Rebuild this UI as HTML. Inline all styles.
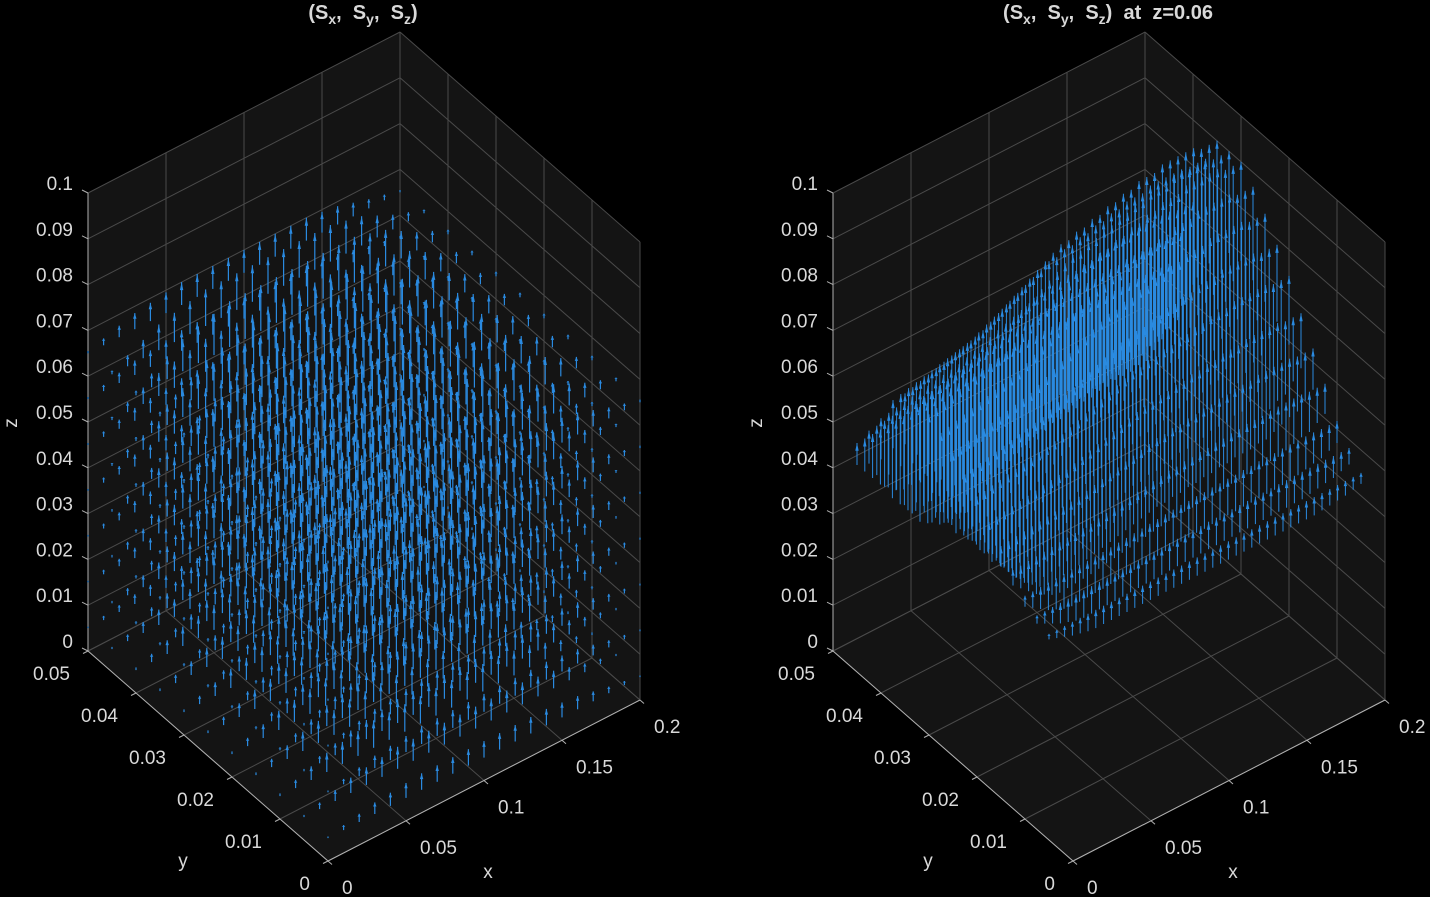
<!DOCTYPE html>
<html><head><meta charset="utf-8"><style>
html,body{margin:0;padding:0;background:#000;}
svg{display:block;font-family:"Liberation Sans",sans-serif;}
.tk{fill:#d9d9d9;font-size:19px;}
.ttl{fill:#d9d9d9;font-size:20px;font-weight:bold;white-space:pre;}
</style></head><body>
<svg id="chart" width="1430" height="897" viewBox="0 0 1430 897" xmlns="http://www.w3.org/2000/svg">
<rect width="1430" height="897" fill="#000"/>
<text class="ttl" x="363" y="19" text-anchor="middle">(S<tspan font-size="14" dy="5">x</tspan><tspan dy="-5">,&#160;&#160;S</tspan><tspan font-size="14" dy="5">y</tspan><tspan dy="-5">,&#160;&#160;S</tspan><tspan font-size="14" dy="5">z</tspan><tspan dy="-5">)</tspan></text>
<text class="ttl" x="1108" y="19" text-anchor="middle">(S<tspan font-size="14" dy="5">x</tspan><tspan dy="-5">,&#160;&#160;S</tspan><tspan font-size="14" dy="5">y</tspan><tspan dy="-5">,&#160;&#160;S</tspan><tspan font-size="14" dy="5">z</tspan><tspan dy="-5">)&#160;&#160;at&#160;&#160;z=0.06</tspan></text>
</svg>
<script>
// ---- data ----
const xTicks=[0,0.05,0.1,0.15,0.2];
const xTickLabels=["0","0.05","0.1","0.15","0.2"];
const yTicks=[0,0.01,0.02,0.03,0.04,0.05];
const yTickLabels=["0","0.01","0.02","0.03","0.04","0.05"];
const zTicks=[0,0.01,0.02,0.03,0.04,0.05,0.06,0.07,0.08,0.09,0.1];
const zTickLabels=["0","0.01","0.02","0.03","0.04","0.05","0.06","0.07","0.08","0.09","0.1"];
// left quiver grid
const qx=[0,0.01,0.02,0.03,0.04,0.05,0.06,0.07,0.08,0.09,0.1,0.11,0.12,0.13,0.14,0.15,0.16,0.17,0.18,0.19,0.2];
const qy=[0,0.005,0.01,0.015,0.02,0.025,0.03,0.035,0.04,0.045,0.05];
const qz=[0.005,0.015,0.025,0.035,0.045,0.055,0.065];
const lenByZ=[0.006,0.0065,0.007,0.0075,0.008,0.009,0.01];
const lenByX=[0.1,0.3,0.5,0.7,0.8,0.9,1,1,1,1,1,1,1,1,1,0.9,0.8,0.6,0.4,0.25,0.1];
const lenByY=[0.6,0.8,1,1,1,1,1,1,1,0.8,0.5];
// right slice quiver
const sx=[0,0.005,0.01,0.015,0.02,0.025,0.03,0.035,0.04,0.045,0.05,0.055,0.06,0.065,0.07,0.075,0.08,0.085,0.09,0.095,0.1,0.105,0.11,0.115,0.12,0.125,0.13,0.135,0.14,0.145,0.15,0.155,0.16,0.165,0.17,0.175,0.18,0.185,0.19,0.195,0.2];
const sy=[0.005,0.0075,0.01,0.0125,0.015,0.0175,0.02,0.0225,0.025,0.0275,0.03,0.0325,0.035,0.0375,0.04,0.0425,0.045];
const tipBase=0.045;
const riseByX=[0.025,0.0255,0.026,0.0265,0.027,0.0275,0.028,0.0285,0.029,0.0295,0.030,0.031,0.032,0.033,0.034,0.035,0.036,0.037,0.038,0.039,0.040,0.040,0.041,0.041,0.042,0.042,0.043,0.043,0.044,0.044,0.045,0.045,0.045,0.046,0.046,0.046,0.046,0.046,0.045,0.045,0.045];
const riseFracY=[0,0.07,0.15,0.28,0.4,0.52,0.65,0.75,0.85,0.93,1,1,1,0.85,0.6,0.4,0.2];
const lenByYR=[0.004,0.006,0.008,0.011,0.015,0.02,0.025,0.028,0.032,0.034,0.036,0.037,0.037,0.035,0.03,0.024,0.016];
const lenByXR=[0.3,0.45,0.6,0.75,0.85,0.95,1,1,1,1,1,1,1,1,1,1,1,1,1,1,1,1,1,1,1,1,1,1,1,1,1,1,1,1,1,0.95,0.9,0.85,0.8,0.7,0.6];

const NS="http://www.w3.org/2000/svg";
const svg=document.getElementById('chart');
function mk(tag,attrs,parent){const e=document.createElementNS(NS,tag);for(const k in attrs)e.setAttribute(k,attrs[k]);(parent||svg).appendChild(e);return e;}
function proj(ox,x,y,z){return [ox+328+x/0.2*312-(y/0.05)*240, 861-x/0.2*161-(y/0.05)*210-z/0.1*458];}

function drawAxes(ox,side){
  const g=mk('g',{});
  
  
  const P=(x,y,z)=>proj(ox,x,y,z);
  const poly=pts=>pts.map(p=>p.join(',')).join(' ');
  const floor=mk('polygon',{points:poly([P(0,0,0),P(0.2,0,0),P(0.2,0.05,0),P(0,0.05,0)]),fill:'#141414'},g);
  
  
  const wl=mk('polygon',{points:poly([P(0,0.05,0),P(0.2,0.05,0),P(0.2,0.05,0.1),P(0,0.05,0.1)]),fill:'#141414'},g);
  
  
  const wr=mk('polygon',{points:poly([P(0.2,0,0),P(0.2,0.05,0),P(0.2,0.05,0.1),P(0.2,0,0.1)]),fill:'#141414'},g);
  
  
  const gl=(a,b)=>{const l=mk('line',{x1:a[0],y1:a[1],x2:b[0],y2:b[1],stroke:'#4a4a4a','stroke-width':1},g);};
  xTicks.forEach(x=>{gl(P(x,0,0),P(x,0.05,0));gl(P(x,0.05,0),P(x,0.05,0.1));});
  yTicks.forEach(y=>{gl(P(0,y,0),P(0.2,y,0));gl(P(0.2,y,0),P(0.2,y,0.1));});
  zTicks.forEach(z=>{gl(P(0,0.05,z),P(0.2,0.05,z));gl(P(0.2,0.05,z),P(0.2,0,z));});
  const al=(a,b,n)=>{const l=mk('line',{x1:a[0],y1:a[1],x2:b[0],y2:b[1],stroke:'#b0b0b0','stroke-width':1},g);};
  al(P(0,0,0),P(0.2,0,0),side+'-x-axis-line');
  al(P(0,0,0),P(0,0.05,0),side+'-y-axis-line');
  al(P(0,0.05,0),P(0,0.05,0.1),side+'-z-axis-line');
  xTicks.forEach((x,i)=>{const p=P(x,0,0);al(p,[p[0]+4,p[1]+3.5],'x-tick');const t=mk('text',{x:p[0]+14,y:p[1]+33,class:'tk'},g);t.textContent=xTickLabels[i];});
  yTicks.forEach((y,i)=>{const p=P(0,y,0);al(p,[p[0]-5,p[1]+2.5],'y-tick');const t=mk('text',{x:p[0]-18,y:p[1]+29,class:'tk','text-anchor':'end'},g);t.textContent=yTickLabels[i];});
  zTicks.forEach((z,i)=>{const p=P(0,0.05,z);al(p,[p[0]-6,p[1]-3],'z-tick');const t=mk('text',{x:p[0]-15,y:p[1]-3,class:'tk','text-anchor':'end'},g);t.textContent=zTickLabels[i];});
  let t=mk('text',{x:ox+488,y:878,class:'tk','text-anchor':'middle'},g);t.textContent='x';
  t=mk('text',{x:ox+183,y:867,class:'tk','text-anchor':'middle'},g);t.textContent='y';
  t=mk('text',{x:0,y:0,class:'tk','text-anchor':'middle',transform:`translate(${ox+17},423) rotate(-90)`},g);t.textContent='z';
}
function arrow(g,a,b,w){
  const l=mk('line',{x1:a[0].toFixed(1),y1:a[1].toFixed(1),x2:b[0].toFixed(1),y2:b[1].toFixed(1),stroke:'#2a8ae0','stroke-width':w},g);
  
  
  const h=Math.min(8,(a[1]-b[1])*0.35);
  if(h>1){const p=mk('polygon',{points:`${b[0]},${b[1]} ${b[0]-1.7},${b[1]+h} ${b[0]+1.7},${b[1]+h}`,fill:'#2a8ae0'},g);
  
  }
}
drawAxes(0,'left');
drawAxes(745,'right');
// left quiver
const gL=mk('g',{});


for(let i=qx.length-1;i>=0;i--)for(let j=qy.length-1;j>=0;j--)for(let k=0;k<qz.length;k++){
  const L=lenByZ[k]*lenByX[i]*lenByY[j];
  arrow(gL,proj(0,qx[i],qy[j],qz[k]),proj(0,qx[i],qy[j],qz[k]+L),1.2);
}
// right slice quiver
const gR=mk('g',{});


for(let j=sy.length-1;j>=0;j--)for(let i=sx.length-1;i>=0;i--){
  const tip=tipBase+riseByX[i]*riseFracY[j];
  const base=tip-lenByYR[j]*lenByXR[i];
  arrow(gR,proj(745,sx[i],sy[j],base),proj(745,sx[i],sy[j],tip),1);
}
</script>
</body></html>
